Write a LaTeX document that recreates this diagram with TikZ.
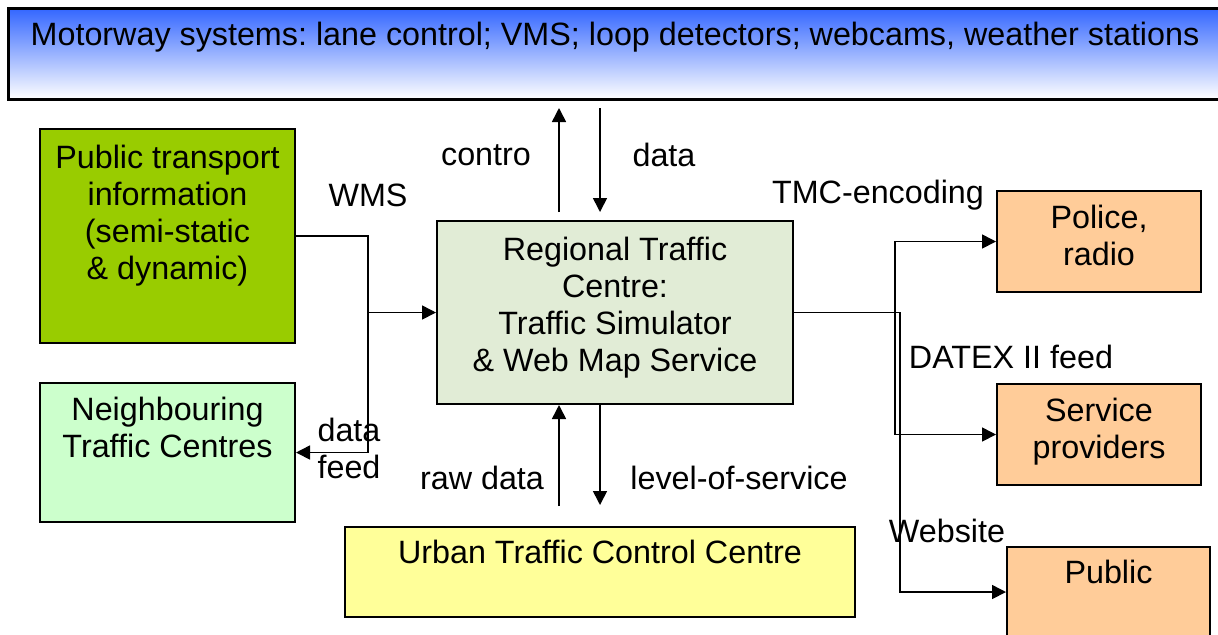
\documentclass[tikz,border=0pt]{standalone}
\usepackage{fontspec}
\setmainfont{Liberation Sans}
\usetikzlibrary{arrows.meta,positioning,calc}
\frenchspacing

\definecolor{mwblue}{HTML}{3366FF}
\definecolor{ptcgreen}{HTML}{99CC00}
\definecolor{nbrgreen}{HTML}{CCFFCC}
\definecolor{rtcgreen}{HTML}{E1ECD6}
\definecolor{utcyellow}{HTML}{FFFF99}
\definecolor{orgbox}{HTML}{FFCC99}

\begin{document}
\begin{tikzpicture}[x=0.5pt,y=-0.5pt,
  every node/.style={font=\fontsize{16.15pt}{18.5pt}\selectfont, inner sep=0pt, align=center},
  box/.style={draw=black, line width=1pt},
  arr/.style={line width=0.8pt, -{Triangle[length=7pt,width=7pt]}}]
  \clip (0,0) rectangle (1218,634);
  \node[box, line width=1.5pt, top color=mwblue, bottom color=white,
        minimum width=607pt, minimum height=45.5pt] (mw) at (615,53.5) {};
  \node[box, fill=ptcgreen, minimum width=127.5pt, minimum height=107pt] (ptc) at (167.5,236) {};
  \node[box, fill=nbrgreen, minimum width=127.5pt, minimum height=69.5pt] (nbr) at (167.5,452.5) {};
  \node[box, fill=rtcgreen, minimum width=178pt, minimum height=91.5pt] (rtc) at (615,312.5) {};
  \node[box, fill=utcyellow, minimum width=255pt, minimum height=45pt] (utc) at (600,572) {};
  \node[box, fill=orgbox, minimum width=102pt, minimum height=50.5pt] (pol) at (1099,241.5) {};
  \node[box, fill=orgbox, minimum width=102pt, minimum height=50.5pt] (svc) at (1099,434.5) {};
  \node[box, fill=orgbox, minimum width=101.5pt, minimum height=45pt] (pub) at (1108.5,592) {};

  \node[below=7.5pt of mw.north] (mwT) {Motorway systems: lane control; VMS; loop detectors; webcams, weather stations};
  \node[below=8.5pt of ptc.north] (ptcT) {Public transport\\information\\(semi-static\\\& dynamic)};
  \node[below=7.5pt of nbr.north] (nbrT) {Neighbouring\\Traffic Centres};
  \node[below=8.5pt of rtc.north] (rtcT) {Regional Traffic\\Centre:\\Traffic Simulator\\\& Web Map Service};
  \node[below=7pt of utc.north] (utcT) {Urban Traffic Control Centre};
  \node[below=7.5pt of pol.north] (polT) {Police,\\radio};
  \node[below=7.5pt of svc.north] (svcT) {Service\\providers};
  \node[below=7pt of pub.north] (pubT) {Public};

  % links left
  \coordinate (jl) at (368,312.5);
  \draw[arr] (ptc.east) -| (jl) |- (nbr.east);
  \draw[arr] (jl) -- (rtc.west);
  % links right
  \coordinate (jr) at (900,312.5);
  \coordinate (jt) at (895,312.5);
  \draw[arr] (rtc.east) -- (jr) |- (pub.west);
  \draw[arr] (jt) |- (pol.west);
  \draw[arr] (jt) |- (svc.west);
  % up and down
  \coordinate (ctl) at (559,212);
  \coordinate (dat) at (600,108);
  \draw[arr] (ctl) -- (ctl |- dat);
  \draw[arr] (dat) -- (dat |- ctl);
  \coordinate (raw) at (559,506);
  \coordinate (los) at (600,505);
  \draw[arr] (raw) -- (raw |- rtc.south);
  \draw[arr] (los |- rtc.south) -- (los);

  \node (lCtl) at (486,155) {contro};
  \node (lDat) at (664,155) {data};
  \node (lWms) at (368,195) {WMS};
  \node (lTmc) at (878,195) {TMC-encoding};
  \node (lDtx) at (1011,357) {DATEX II feed};
  \node (lFeed) at (349,448) {data\\feed};
  \node (lRaw) at (482,478) {raw data};
  \node (lLos) at (739,478) {level-of-service};
  \node (lWeb) at (947,531) {Website};
\end{tikzpicture}
\end{document}
